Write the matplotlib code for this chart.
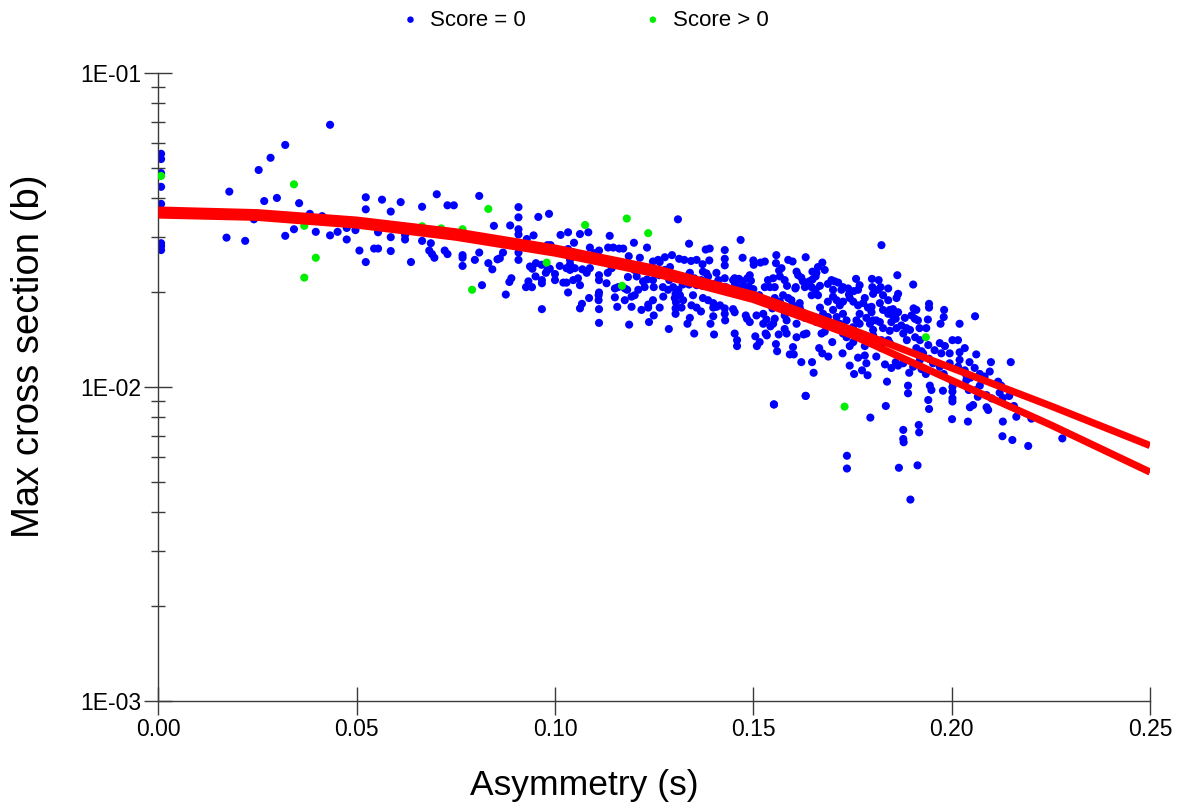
import numpy as np
import matplotlib
matplotlib.use("Agg")
import matplotlib.pyplot as plt
from matplotlib.ticker import LogLocator, NullFormatter, FixedLocator, FixedFormatter

plt.rcParams['font.family'] = ['Liberation Sans', 'DejaVu Sans']

# ---------------- data ----------------
# Score = 0 points: asymmetry s, max cross section in units of 1e-3 b
blue_s = [
 0.0007, 0.0007, 0.0007, 0.0007, 0.0007, 0.0007, 0.0007, 0.0007,
 0.0433, 0.0320, 0.0283, 0.0253, 0.0179, 0.0267, 0.0299, 0.0355, 0.0382, 0.0413,
 0.0241, 0.0172, 0.0219, 0.0320, 0.0342, 0.0397, 0.0433, 0.0452, 0.0475, 0.0475,
 0.0497, 0.0507, 0.0523, 0.0523, 0.0523, 0.0544, 0.0554, 0.0554, 0.0564, 0.0586,
 0.0586, 0.0586, 0.0605, 0.0611, 0.0622, 0.0622, 0.0637, 0.0665, 0.0665, 0.0687,
 0.0683, 0.0690, 0.0696, 0.0702, 0.0722, 0.0729, 0.0729, 0.0745, 0.0767, 0.0767,
 0.0767, 0.0798, 0.0798, 0.0809, 0.0809, 0.0816, 0.0832, 0.0842, 0.0846, 0.0855,
 0.0869, 0.0876, 0.0885, 0.0890, 0.0887, 0.0908, 0.0908, 0.0908, 0.0908, 0.0908,
 0.0908, 0.0929, 0.0946, 0.0958, 0.0937, 0.0943, 0.0952, 0.0927, 0.0942, 0.0933,
 0.0951, 0.0967, 0.0967, 0.0967, 0.0977, 0.0981, 0.0981, 0.0985, 0.0966, 0.0987,
 0.1000, 0.1012, 0.1000, 0.1021, 0.1029, 0.1038, 0.1050, 0.1046, 0.1058, 0.1063,
 0.1033, 0.1063, 0.1086, 0.1110, 0.1110, 0.1111, 0.1111, 0.1088, 0.1080, 0.1133,
 0.1143, 0.1151, 0.1159, 0.1182, 0.1184, 0.1151, 0.1201, 0.1210, 0.1226, 0.1249,
 0.1232, 0.1247, 0.1193, 0.1176, 0.1247, 0.1235, 0.1014, 0.1033, 0.1063, 0.1084,
 0.1138, 0.1199, 0.1232, 0.1048, 0.0989, 0.1088, 0.1111, 0.1134, 0.1147, 0.1162,
 0.1172, 0.1186, 0.1214, 0.1247, 0.1260,
 0.1310, 0.1277, 0.1295, 0.1338, 0.1313, 0.1326, 0.1343, 0.1357, 0.1380, 0.1390,
 0.1428, 0.1468, 0.1428, 0.1428, 0.1372, 0.1389, 0.1473, 0.1500, 0.1501, 0.1518,
 0.1529, 0.1558, 0.1557, 0.1571, 0.1588, 0.1599, 0.1632, 0.1674, 0.1663, 0.1680,
 0.1649, 0.1657, 0.1697, 0.1705, 0.1714, 0.1759, 0.1799, 0.1816, 0.1823, 0.1863,
 0.1800, 0.1821, 0.1768, 0.1764, 0.1726, 0.1739, 0.1753, 0.1688, 0.1701, 0.1668,
 0.1657, 0.1663, 0.1649, 0.1641, 0.1613, 0.1621, 0.1625, 0.1607, 0.1579, 0.1585,
 0.1565, 0.1550, 0.1537, 0.1529, 0.1542, 0.1515, 0.1494, 0.1489, 0.1500, 0.1464,
 0.1474, 0.1468, 0.1449, 0.1454, 0.1428, 0.1431, 0.1407, 0.1412, 0.1382, 0.1386,
 0.1369, 0.1372, 0.1351, 0.1357, 0.1333, 0.1338, 0.1315, 0.1322, 0.1311, 0.1298,
 0.1304, 0.1305, 0.1288, 0.1277, 0.1263, 0.1222, 0.1200, 0.1206, 0.1193, 0.1235,
 0.1273, 0.1304, 0.1304, 0.1323, 0.1319, 0.1344, 0.1357, 0.1368, 0.1340, 0.1334,
 0.1392, 0.1399, 0.1407, 0.1428, 0.1428, 0.1429, 0.1449, 0.1453, 0.1481, 0.1484,
 0.1491, 0.1453, 0.1459, 0.1459, 0.1401, 0.1351, 0.1287, 0.1508, 0.1525, 0.1533,
 0.1505, 0.1516, 0.1509, 0.1543, 0.1550, 0.1531, 0.1564, 0.1579, 0.1584, 0.1557,
 0.1560, 0.1600, 0.1592, 0.1602, 0.1609, 0.1627, 0.1634, 0.1621, 0.1648, 0.1652,
 0.1632, 0.1666, 0.1674, 0.1689, 0.1672, 0.1680, 0.1699, 0.1725, 0.1743, 0.1735,
 0.1752, 0.1754, 0.1774, 0.1788, 0.1785, 0.1781, 0.1810, 0.1823, 0.1840, 0.1837,
 0.1848, 0.1859, 0.1827, 0.1844, 0.1861, 0.1859, 0.1848, 0.1785, 0.1794, 0.1802,
 0.1768, 0.1760, 0.1751, 0.1726, 0.1735, 0.1701, 0.1710, 0.1718, 0.1668, 0.1676,
 0.1688, 0.1655, 0.1659, 0.1617, 0.1624, 0.1630, 0.1600, 0.1592, 0.1575, 0.1588,
 0.1567, 0.1554, 0.1558, 0.1548, 0.1701, 0.1710, 0.1718, 0.1743, 0.1752, 0.1764,
 0.1777, 0.1789, 0.1798, 0.1819, 0.1827, 0.1840, 0.1852, 0.1865, 0.1802, 0.1815,
 0.1827, 0.1840, 0.1861, 0.1840, 0.1865, 0.1743, 0.1764,
 0.1068, 0.1111, 0.1111, 0.1111, 0.1130, 0.1157, 0.1176, 0.1187, 0.1218, 0.1237,
 0.1249, 0.1264, 0.1038, 0.1029, 0.1069, 0.1100, 0.1106, 0.1033, 0.1044, 0.1038,
 0.0861, 0.1264, 0.1659, 0.1609, 0.1290, 0.1340, 0.1373, 0.1453, 0.1485, 0.1491,
 0.1554, 0.1567, 0.1606, 0.1630, 0.1647, 0.1647, 0.1688, 0.1596, 0.1617, 0.1272,
 0.1285, 0.1302, 0.1315, 0.1348, 0.1373, 0.1386, 0.1399, 0.1416, 0.1395, 0.1407,
 0.1485, 0.1466, 0.1458, 0.1584, 0.1552, 0.1399, 0.1525, 0.1534, 0.1554, 0.1579,
 0.1609, 0.1617,
 0.1903, 0.1722, 0.1741, 0.1781, 0.1798, 0.1726, 0.1844, 0.1852, 0.1943, 0.1943,
 0.1904, 0.1911, 0.1899, 0.1907, 0.1882, 0.1981, 0.1980, 0.1972, 0.1940, 0.2020,
 0.2059, 0.1768, 0.1802, 0.1819, 0.1873, 0.1886, 0.1919, 0.1936,
 0.2002, 0.2016, 0.2033, 0.2020, 0.2062, 0.2099, 0.2096, 0.2149, 0.2117, 0.2125,
 0.2121, 0.2129, 0.2071, 0.2062, 0.2066, 0.2054, 0.2046, 0.2088, 0.2092, 0.2129,
 0.2163, 0.2128, 0.2153, 0.2041, 0.2002, 0.2002, 0.2002, 0.2002, 0.2002, 0.2001,
 0.1978, 0.1945, 0.1949, 0.1941, 0.1943, 0.1917, 0.1918, 0.1878, 0.1878, 0.1879,
 0.1890, 0.1890, 0.1834, 0.1795, 0.1832, 0.1865, 0.1878, 0.1893, 0.1903, 0.1924,
 0.1935, 0.1920, 0.1928, 0.1943, 0.1953, 0.1970, 0.1980, 0.1995, 0.2016, 0.2033,
 0.2037, 0.2047, 0.2020, 0.2045, 0.2058, 0.2071, 0.2083, 0.1970, 0.1983, 0.1957,
 0.1974, 0.1995, 0.1911, 0.1924, 0.1941, 0.1920, 0.1878, 0.1895, 0.1908, 0.1887,
 0.1915, 0.1810, 0.1764, 0.1785, 0.1802, 0.1823, 0.1844, 0.1726, 0.1781, 0.2088,
 0.2101, 0.2201, 0.2193, 0.2279, 0.2145, 0.2157, 0.2043, 0.2037, 0.1867, 0.1914,
 0.1896, 0.1736, 0.1736, 0.1552, 0.1632,
]
blue_sigma = [
 55.3, 53.2, 48.0, 43.4, 38.3, 28.7, 28.1, 27.3,
 68.4, 59.0, 53.7, 49.1, 41.9, 39.1, 40.0, 38.5, 35.6, 35.0,
 34.2, 29.9, 29.2, 30.3, 31.8, 31.2, 30.4, 31.2, 29.5, 32.1,
 31.6, 27.2, 25.0, 36.8, 40.2, 27.6, 27.6, 31.1, 39.5, 36.2,
 30.0, 27.1, 32.6, 38.8, 29.5, 30.5, 25.0, 37.5, 29.2, 28.7,
 27.2, 26.5, 25.8, 41.1, 27.2, 26.5, 37.9, 37.9, 26.3, 25.8,
 24.3, 30.0, 25.4, 26.8, 40.6, 21.1, 24.8, 23.7, 32.6, 25.5,
 26.8, 19.7, 21.6, 22.2, 32.7, 37.4, 34.7, 31.8, 30.6, 26.8,
 25.4, 29.6, 30.4, 34.8, 24.2, 23.8, 24.8, 20.8, 20.8, 21.7,
 22.5, 21.9, 21.4, 17.7, 23.1, 23.6, 28.3, 35.6, 24.5, 23.8,
 22.9, 24.3, 21.9, 21.5, 21.5, 23.6, 23.9, 21.9, 22.2, 21.1,
 20.0, 17.8, 19.2, 19.6, 18.9, 21.9, 22.7, 23.9, 23.1, 23.1,
 23.9, 20.6, 20.8, 20.4, 22.4, 19.3, 19.6, 20.4, 20.8, 20.8,
 22.0, 21.9, 18.0, 18.9, 18.9, 18.3, 30.5, 31.1, 30.7, 31.1,
 30.3, 28.8, 27.8, 28.8, 28.3, 27.8, 27.2, 27.8, 27.8, 27.6,
 27.6, 26.1, 25.8, 25.1, 25.4,
 34.2, 25.9, 26.3, 28.6, 25.6, 25.4, 25.2, 25.4, 27.4, 27.6,
 27.3, 29.4, 25.6, 24.4, 24.6, 25.3, 25.8, 25.3, 24.5, 24.9,
 25.1, 26.3, 24.8, 23.9, 25.4, 25.1, 25.9, 24.9, 24.1, 23.6,
 23.3, 22.5, 21.9, 21.7, 21.5, 22.1, 22.1, 21.9, 28.3, 22.7,
 20.8, 20.8, 21.1, 20.4, 20.8, 20.6, 20.2, 21.3, 20.4, 21.0,
 20.4, 19.6, 22.0, 21.7, 22.7, 22.3, 21.7, 20.8, 21.9, 21.0,
 23.5, 22.2, 21.9, 20.8, 20.8, 19.6, 21.8, 20.8, 20.5, 22.1,
 21.7, 20.8, 21.9, 21.3, 22.2, 20.8, 23.1, 21.9, 23.0, 22.5,
 21.9, 21.0, 22.2, 21.1, 22.5, 21.2, 22.5, 21.2, 20.4, 20.8,
 19.8, 18.6, 21.9, 23.6, 22.7, 21.7, 23.6, 22.5, 19.4, 17.9,
 19.4, 17.8, 17.1, 18.9, 17.9, 18.2, 17.9, 17.4, 16.6, 15.9,
 15.9, 17.9, 18.0, 17.8, 17.1, 16.3, 17.7, 17.3, 16.9, 16.5,
 16.1, 14.8, 14.1, 13.5, 14.7, 14.8, 15.3, 16.9, 17.1, 16.4,
 14.5, 13.9, 13.5, 15.6, 15.9, 14.8, 14.7, 15.3, 14.8, 13.7,
 13.0, 13.4, 12.7, 12.7, 14.4, 14.7, 14.8, 12.0, 12.0, 11.1,
 9.37, 13.3, 12.8, 12.5, 14.8, 15.0, 13.9, 12.8, 13.5, 14.4,
 13.9, 11.0, 11.3, 10.9, 11.9, 12.6, 12.5, 13.3, 14.1, 10.4,
 11.5, 12.0, 15.4, 15.1, 15.4, 16.5, 16.1, 16.6, 15.9, 15.2,
 17.1, 16.3, 15.5, 17.1, 16.3, 17.6, 16.7, 15.9, 17.9, 17.1,
 16.7, 16.7, 16.1, 17.9, 17.3, 16.6, 18.2, 17.6, 19.6, 19.2,
 18.7, 19.2, 18.5, 17.8, 19.4, 18.9, 18.2, 19.2, 18.7, 18.2,
 18.5, 17.9, 17.3, 18.5, 17.6, 17.1, 17.7, 17.3, 19.8, 20.4,
 19.6, 18.9, 19.2, 20.6, 19.8, 11.7, 12.4,
 18.4, 20.0, 17.7, 16.0, 21.4, 18.0, 20.6, 15.8, 17.6, 16.1,
 16.9, 17.9, 24.6, 23.9, 23.7, 26.7, 25.4, 27.5, 26.9, 25.4,
 25.7, 25.0, 23.1, 23.3, 24.1, 23.1, 23.3, 22.2, 22.2, 22.7,
 20.8, 22.5, 20.6, 20.8, 20.8, 19.6, 18.7, 18.9, 18.5, 20.8,
 20.4, 19.2, 19.6, 19.6, 19.2, 18.9, 18.5, 18.2, 20.8, 21.4,
 20.8, 19.8, 20.4, 16.3, 8.80, 16.8, 15.9, 14.6, 16.5, 16.9,
 15.9, 16.9,
 21.2, 20.4, 19.7, 19.2, 18.0, 18.7, 17.6, 16.9, 18.4, 17.9,
 17.8, 17.6, 16.9, 16.5, 16.6, 17.6, 16.7, 15.9, 16.4, 15.9,
 16.8, 15.9, 16.3, 16.1, 15.7, 15.4, 15.4, 15.4,
 14.1, 14.1, 13.3, 12.9, 12.7, 12.0, 11.2, 12.0, 10.4, 10.1,
 9.59, 9.23, 10.1, 9.78, 9.31, 8.76, 8.62, 8.62, 8.45, 7.76,
 8.04, 6.97, 6.78, 7.76, 10.4, 10.0, 9.67, 9.20, 8.99, 7.90,
 9.73, 10.1, 9.78, 9.09, 8.51, 7.57, 7.17, 7.30, 6.83, 6.67,
 10.1, 9.55, 8.70, 7.99, 11.8, 11.7, 11.9, 11.1, 11.6, 11.4,
 11.0, 12.2, 12.8, 12.3, 11.9, 11.6, 11.0, 11.9, 11.6, 11.3,
 10.9, 10.7, 12.2, 12.0, 11.5, 11.0, 10.8, 13.8, 13.5, 13.1,
 12.8, 12.8, 13.3, 13.0, 13.6, 14.1, 14.8, 15.2, 14.4, 14.1,
 16.3, 16.3, 14.8, 14.3, 14.6, 14.1, 13.8, 14.8, 13.5, 9.42,
 9.20, 7.93, 6.49, 6.86, 9.36, 8.70, 9.78, 10.5, 5.53, 5.63,
 4.38, 6.04, 5.50, 8.80, 9.37,
]

# Score > 0 points
green_s = [0.0007, 0.0342, 0.0368, 0.0397, 0.0368, 0.0665, 0.0713, 0.0767,
           0.0791, 0.0832, 0.0979, 0.1076, 0.1181, 0.1235, 0.1169, 0.1935, 0.1730]
green_sigma = [47.0, 44.2, 32.6, 25.8, 22.3, 32.5, 32.0, 31.8,
               20.4, 36.9, 24.9, 32.8, 34.4, 30.9, 21.0, 14.4, 8.66]

# Two fitted curves (asymmetry vs max cross section, units 1e-3 b)
fit_s = [0.0, 0.025, 0.05, 0.075, 0.10, 0.125, 0.15, 0.175, 0.20, 0.225, 0.25]
fit_upper = [36.6, 35.9, 34.0, 31.2, 27.7, 23.9, 19.7, 15.2, 11.5, 8.70, 6.51]
fit_lower = [35.3, 34.7, 32.8, 30.0, 26.7, 23.0, 19.0, 14.6, 10.5, 7.57, 5.36]

legend_labels = ["Score = 0", "Score > 0"]
ytick_vals = [1e-3, 1e-2, 1e-1]
ytick_labels = ["1E-03", "1E-02", "1E-01"]
xtick_vals = [0.0, 0.05, 0.10, 0.15, 0.20, 0.25]
xtick_labels = ["0.00", "0.05", "0.10", "0.15", "0.20", "0.25"]

# ---------------- plotting ----------------
W, H = 1191, 808
fig = plt.figure(figsize=(W / 100, H / 100), dpi=100)
ax = fig.add_axes([158.3 / W, 1 - 701 / H, (1150 - 158.3) / W, (701 - 73) / H])

scale = 1e-3
blue_col = '#0000ff'
green_col = '#00ee00'
ax.scatter(blue_s, np.array(blue_sigma) * scale, s=34, color=blue_col,
           edgecolors='none', zorder=2, label=legend_labels[0])
ax.scatter(green_s, np.array(green_sigma) * scale, s=34, color=green_col,
           edgecolors='none', zorder=3, label=legend_labels[1])
ax.plot(fit_s, np.array(fit_upper) * scale, color='#ff0000', lw=5.2,
        solid_capstyle='butt', solid_joinstyle='round', zorder=4)
ax.plot(fit_s, np.array(fit_lower) * scale, color='#ff0000', lw=5.2,
        solid_capstyle='butt', solid_joinstyle='round', zorder=4)

ax.set_yscale('log')
ax.set_xlim(0, 0.25)
ax.set_ylim(1e-3, 1e-1)

ax.yaxis.set_major_locator(FixedLocator(ytick_vals))
ax.yaxis.set_major_formatter(FixedFormatter(ytick_labels))
ax.yaxis.set_minor_locator(LogLocator(base=10, subs=np.arange(2, 10)))
ax.yaxis.set_minor_formatter(NullFormatter())
ax.set_xticks(xtick_vals)
ax.set_xticklabels(xtick_labels)

axis_col = '#3a3a3a'
for side in ['top', 'right']:
    ax.spines[side].set_visible(False)
for side in ['left', 'bottom']:
    ax.spines[side].set_color(axis_col)
    ax.spines[side].set_linewidth(1.0)
ax.tick_params(axis='both', which='major', direction='inout', length=19.5,
               width=1.0, color=axis_col, labelsize=16.5, pad=2.5,
               labelcolor='black')
ax.tick_params(axis='y', which='minor', direction='inout', length=10,
               width=1.0, color=axis_col)

ax.set_xlabel("Asymmetry (s)", fontsize=25.5, va='center')
ax.xaxis.set_label_coords((584.5 - 158.3) / 991.7, (701 - 786) / 628)
ax.set_ylabel("Max cross section (b)", fontsize=27.5, va='center')
ax.yaxis.set_label_coords((29 - 158.3) / 991.7, (701 - 356) / 628)

handles, labels = ax.get_legend_handles_labels()
leg = fig.legend(handles, labels, loc='center', bbox_to_anchor=(584 / W, 1 - 20 / H),
                 ncol=2, frameon=False, fontsize=16, markerscale=0.8,
                 handlelength=1.0, handletextpad=0.4, columnspacing=5.2,
                 borderaxespad=0, borderpad=0)

fig.savefig("out.png", dpi=100)
